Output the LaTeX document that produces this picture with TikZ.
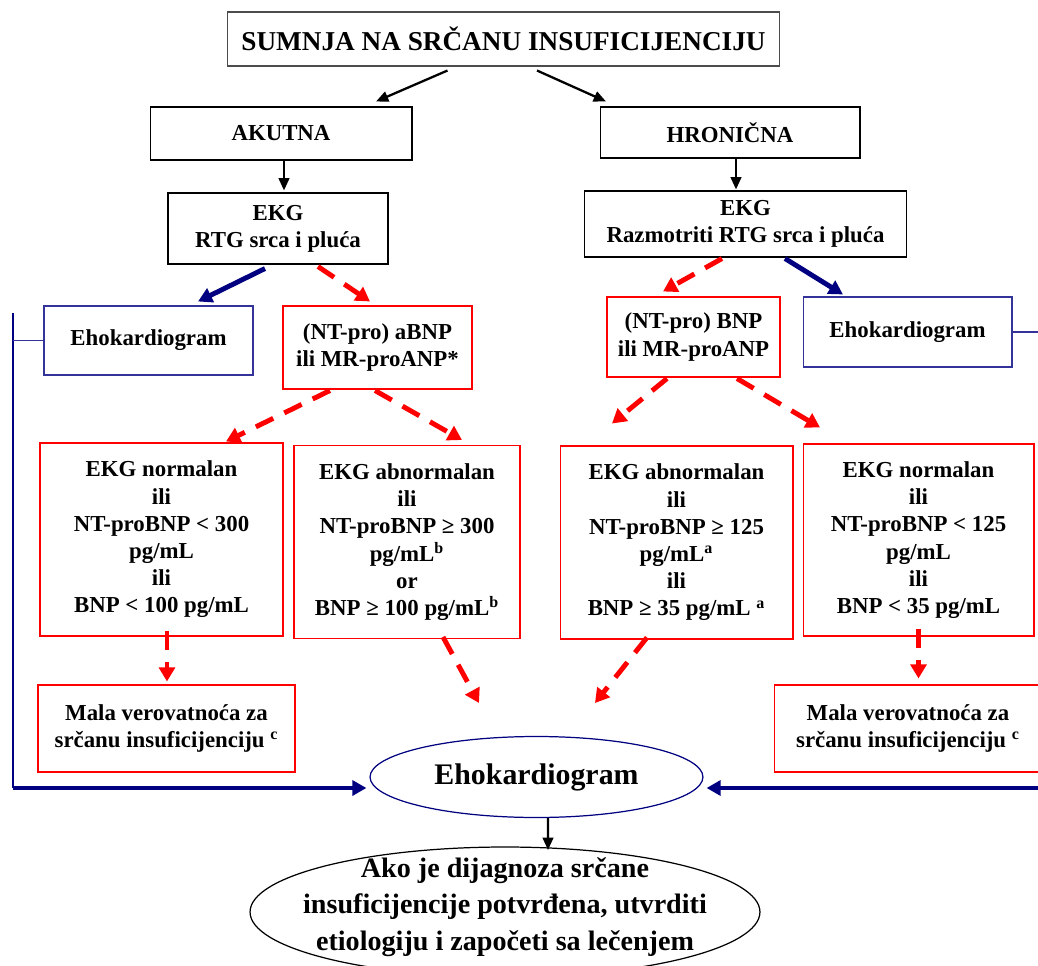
\documentclass[tikz,border=0pt]{standalone}
\usepackage{fontspec}
\setmainfont{Liberation Serif}
\usetikzlibrary{arrows.meta,shapes.geometric,calc}
\definecolor{navy}{RGB}{0,0,128}
\begin{document}
\begin{tikzpicture}[x=0.02cm,y=-0.02cm,
      box/.style={draw,align=center,inner sep=0pt,
        font=\bfseries\fontsize{13}{15.5}\selectfont},
      redbox/.style={box,draw=red,line width=0.6pt},
      bluebox/.style={box,draw=navy!80,line width=0.6pt},
      blackarrow/.style={-{Triangle[length=7pt,width=6pt]},line width=1.3pt},
      bluearrow/.style={-{Triangle[length=8pt,width=8.5pt]},line width=2.8pt,navy},
      redarrow/.style={-{Triangle[length=8pt,width=9pt]},line width=2.8pt,red,
        dash pattern=on 11pt off 7pt}]
  \useasboundingbox (0,0) rectangle (1038,966);
  \node[box,draw=black!70,line width=0.6pt,minimum width=11.06cm,minimum height=1.08cm,
    font=\bfseries\fontsize{15.5}{18}\selectfont] (title) at (503.5,39)
    {SUMNJA NA SRČANU INSUFICIJENCIJU};
  \node[box,line width=0.6pt,minimum width=5.24cm,minimum height=1.06cm] (akutna) at (281,133.5) {AKUTNA};
  \node[box,line width=0.6pt,minimum width=5.2cm,minimum height=1.02cm] (hronicna) at (730,132.5) {HRONIČNA};
  \node[box,line width=0.6pt,minimum width=4.4cm,minimum height=1.42cm] (ekgA) at (278,228.5)
    {EKG\\ RTG srca i pluća};
  \node[box,line width=0.6pt,minimum width=6.44cm,minimum height=1.32cm] (ekgH) at (745.5,224)
    {EKG\\ Razmotriti RTG srca i pluća};
  \node[bluebox,minimum width=4.18cm,minimum height=1.38cm] (echoA) at (148.5,340.5) {Ehokardiogram};
  \node[redbox,minimum width=3.78cm,minimum height=1.66cm] (bnpA) at (377.5,347.5)
    {(NT-pro) aBNP\\ ili MR-proANP*};
  \node[redbox,minimum width=3.46cm,minimum height=1.6cm] (bnpH) at (693.5,337)
    {(NT-pro) BNP\\ ili MR-proANP};
  \node[bluebox,minimum width=4.18cm,minimum height=1.4cm] (echoH) at (907.5,332) {Ehokardiogram};
  \node[redbox,minimum width=4.86cm,minimum height=3.86cm] (resA) at (161.5,539.5)
    {EKG normalan\\ ili\\ NT-proBNP < 300\\ pg/mL\\ ili\\ BNP < 100 pg/mL};
  \node[redbox,minimum width=4.52cm,minimum height=3.86cm] (resB) at (407,542)
    {EKG abnormalan\\ ili\\ NT-proBNP ≥ 300\\ pg/mL\textsuperscript{b}\\ or\\
     BNP ≥ 100 pg/mL\textsuperscript{b}};
  \node[redbox,minimum width=4.66cm,minimum height=3.86cm] (resC) at (676.5,542.5)
    {EKG abnormalan\\ ili\\ NT-proBNP ≥ 125\\ pg/mL\textsuperscript{a}\\ ili\\
     BNP ≥ 35 pg/mL \textsuperscript{a}};
  \node[redbox,minimum width=4.62cm,minimum height=3.84cm] (resD) at (918.5,540)
    {EKG normalan\\ ili\\ NT-proBNP < 125\\ pg/mL\\ ili\\ BNP < 35 pg/mL};
  \node[redbox,minimum width=5.14cm,minimum height=1.74cm] (malaA) at (166.5,728.5)
    {Mala verovatnoća za\\ srčanu insuficijenciju \textsuperscript{c}};
  \node[redbox,minimum width=5.36cm,minimum height=1.74cm] (malaH) at (908,728.5)
    {Mala verovatnoća za\\ srčanu insuficijenciju \textsuperscript{c}};
  \node[ellipse,draw=navy,line width=0.7pt,inner sep=0pt,minimum width=6.66cm,minimum height=1.62cm,
    font=\bfseries\fontsize{17}{20}\selectfont] (echo) at (536.5,777) {Ehokardiogram};
  \node[align=center,inner sep=0pt,font=\bfseries\fontsize{16}{20.8}\selectfont] (final) at (505,907)
    {Ako je dijagnoza srčane\\ insuficijencije potvrđena, utvrditi\\ etiologiju i započeti sa lečenjem};
  \draw[line width=0.7pt] (505,912) ellipse [x radius=5.1cm, y radius=1.3cm];
  \coordinate (ltop) at (13,313);
  \coordinate (lcorner) at (13,788);
  \coordinate (rcorner) at (1040,788);
  \coordinate (redge) at (1040,332);
  \coordinate (bmid) at (479,703);
  \coordinate (cmid) at (595,703);
  \coordinate (finaltop) at (548,850);
  \draw[blackarrow] ($(title.south)+(-56,4)$) -- ($(akutna.north)+(95,-5)$);
  \draw[blackarrow] ($(title.south)+(33.5,4)$) -- ($(hronicna.north)+(-124,-5)$);
  \draw[blackarrow] ($(akutna.south)+(3,0)$) -- ($(ekgA.north)+(6,-2)$);
  \draw[blackarrow] ($(hronicna.south)+(6,0)$) -- ($(ekgH.north)+(-9.5,-1)$);
  \draw[bluearrow] ($(ekgA.south)+(-13,4)$) -- ($(echoA.north)+(49.5,-4)$);
  \draw[redarrow] ($(ekgA.south)+(40,2)$) -- ($(bnpA.north)+(-7.5,-4)$);
  \draw[redarrow] ($(ekgH.south)+(-23.5,1)$) -- ($(bnpH.north)+(-30.5,-5)$);
  \draw[bluearrow] ($(ekgH.south)+(39.5,1)$) -- ($(echoH.north)+(-64.5,-2)$);
  \draw[redarrow] ($(bnpA.south)+(-47.5,1)$) -- ($(resA.north)+(64.5,-1)$);
  \draw[redarrow] ($(bnpA.south)+(-2.5,1)$) -- ($(resB.north)+(55,-5)$);
  \draw[redarrow] ($(bnpH.south)+(-26.5,1)$) -- ($(resC.north)+(-64.5,-22)$);
  \draw[redarrow] ($(bnpH.south)+(43.5,1)$) -- ($(resD.north)+(-98.5,-16)$);
  \draw[redarrow] ($(resA.south)+(5.5,-6)$) -- ($(malaA.north)+(0.5,-3)$);
  \draw[redarrow] ($(resB.south)+(36,-2)$) -- (bmid);
  \draw[redarrow] ($(resC.south)+(-29.5,-2)$) -- (cmid);
  \draw[redarrow] ($(resD.south)+(0,-8)$) -- ($(malaH.north)+(10.5,-6)$);
  \draw[navy,line width=1pt] (ltop) -- (lcorner);
  \draw[navy!80,line width=0.6pt] (echoA.west) -- (echoA.west -| ltop);
  \draw[bluearrow] (lcorner) -- ($(echo.west)+(-3,11)$);
  \draw[bluearrow] (rcorner) -- ($(echo.east)+(3,11)$);
  \draw[navy!80,line width=0.6pt] (echoH.east) -- (redge);
  \draw[blackarrow] ($(echo.south)+(11.5,0)$) -- (finaltop);
\end{tikzpicture}
\end{document}
